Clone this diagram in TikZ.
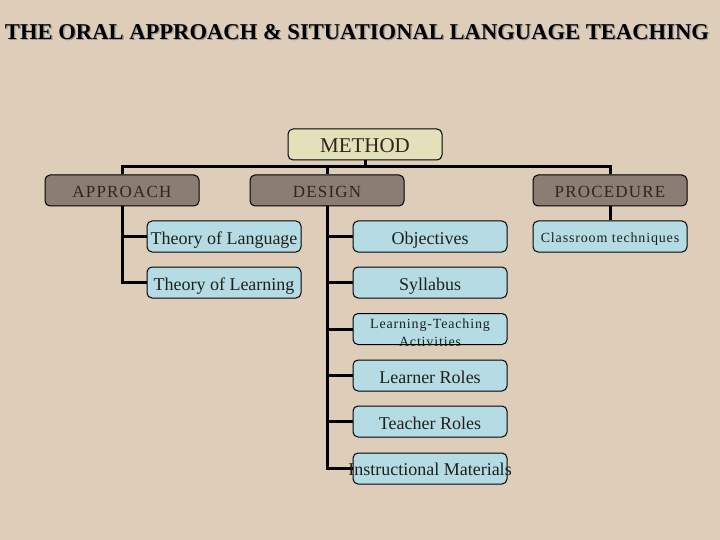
\documentclass[tikz,border=0pt]{standalone}
\usepackage{fontspec}
\setmainfont{Liberation Serif}
\newfontfamily\spacedfont[LetterSpace=6]{Liberation Serif}
\newfontfamily\headfont[LetterSpace=7]{Liberation Serif}
\definecolor{bg}{RGB}{222,205,185}
\definecolor{methodfill}{RGB}{227,225,186}
\definecolor{graybox}{RGB}{139,125,116}
\definecolor{bluebox}{RGB}{181,220,228}
\definecolor{browntext}{RGB}{50,36,24}
\definecolor{darktext}{RGB}{30,32,25}
\tikzset{
  basebox/.style={draw=black, line width=1pt, rounded corners=5pt, minimum width=154pt, minimum height=31pt, inner sep=0pt},
  methodbox/.style={basebox, fill=methodfill, text=browntext, font=\fontsize{21}{24}\selectfont, text height=17pt, text depth=0pt},
  headbox/.style={basebox, fill=graybox, text=browntext, font=\headfont\fontsize{17}{20}\selectfont, text height=13pt, text depth=0pt},
  itembox/.style={basebox, fill=bluebox, text=darktext, font=\fontsize{18}{21}\selectfont, text height=16pt, text depth=0pt},
  conn/.style={line width=3pt, black},
}
\begin{document}
\begin{tikzpicture}[x=1pt,y=-1pt]
\fill[bg] (0,0) rectangle (720,540);
\useasboundingbox (0,0) rectangle (720,540);
% title
\node[text=black!40, font=\bfseries\fontsize{22.6}{26}\selectfont, inner sep=0pt] (titleshadow) at (358.2,33.2) {THE ORAL APPROACH \& SITUATIONAL LANGUAGE TEACHING};
\node[text=black, font=\bfseries\fontsize{22.6}{26}\selectfont, inner sep=0pt] (title) at (357,32) {THE ORAL APPROACH \& SITUATIONAL LANGUAGE TEACHING};
\coordinate (bar) at (365,167);
\node[methodbox] (method) at (365,144.5) {METHOD};
\node[headbox] (approach) at (122,190.5) {APPROACH};
\node[headbox] (design) at (327,190.5) {DESIGN};
\node[headbox] (procedure) at (610,190.5) {PROCEDURE};
\draw[conn] (method.south) -- (method.south |- bar);
\draw[conn] (approach.north) |- (bar) -| (procedure.north);
\draw[conn] (design.north) -- (design.north |- bar);
\node[itembox] (tlang) at (224,236.5) {Theory of Language};
\node[itembox] (tlearn) at (224,282.5) {Theory of Learning};
\node[itembox] (obj) at (430,236.5) {Objectives};
\node[itembox] (syl) at (430,282.5) {Syllabus};
\node[itembox] (lta) at (430,329) {};
\node[itembox] (lrole) at (430,375.5) {Learner Roles};
\node[itembox] (trole) at (430,421.5) {Teacher Roles};
\node[itembox] (imat) at (430,468.5) {};
\node[itembox, font=\spacedfont\fontsize{14}{17}\selectfont, text height=13pt] (ctech) at (610,236.5) {Classroom techniques};
\begin{scope}
\clip[rounded corners=5pt] (lta.south west) rectangle (lta.north east);
\node[text=darktext, font=\spacedfont\fontsize{14}{17}\selectfont, anchor=base] (ltaone) at (430,328) {Learning-Teaching};
\node[text=darktext, font=\spacedfont\fontsize{14}{17}\selectfont, anchor=base] (ltatwo) at (430,346) {Activities};
\end{scope}
\draw[conn] (approach.south) |- (tlang.west);
\draw[conn] (approach.south) |- (tlearn.west);
\draw[conn] (design.south) |- (obj.west);
\draw[conn] (design.south) |- (syl.west);
\draw[conn] (design.south) |- (lta.west);
\draw[conn] (design.south) |- (lrole.west);
\draw[conn] (design.south) |- (trole.west);
\draw[conn] (design.south) |- (imat.west);
\node[text=darktext, font=\fontsize{18}{21}\selectfont, anchor=base] (imattext) at (430,475) {Instructional Materials};
\draw[conn] (procedure.south) -- (ctech.north);
\end{tikzpicture}
\end{document}
